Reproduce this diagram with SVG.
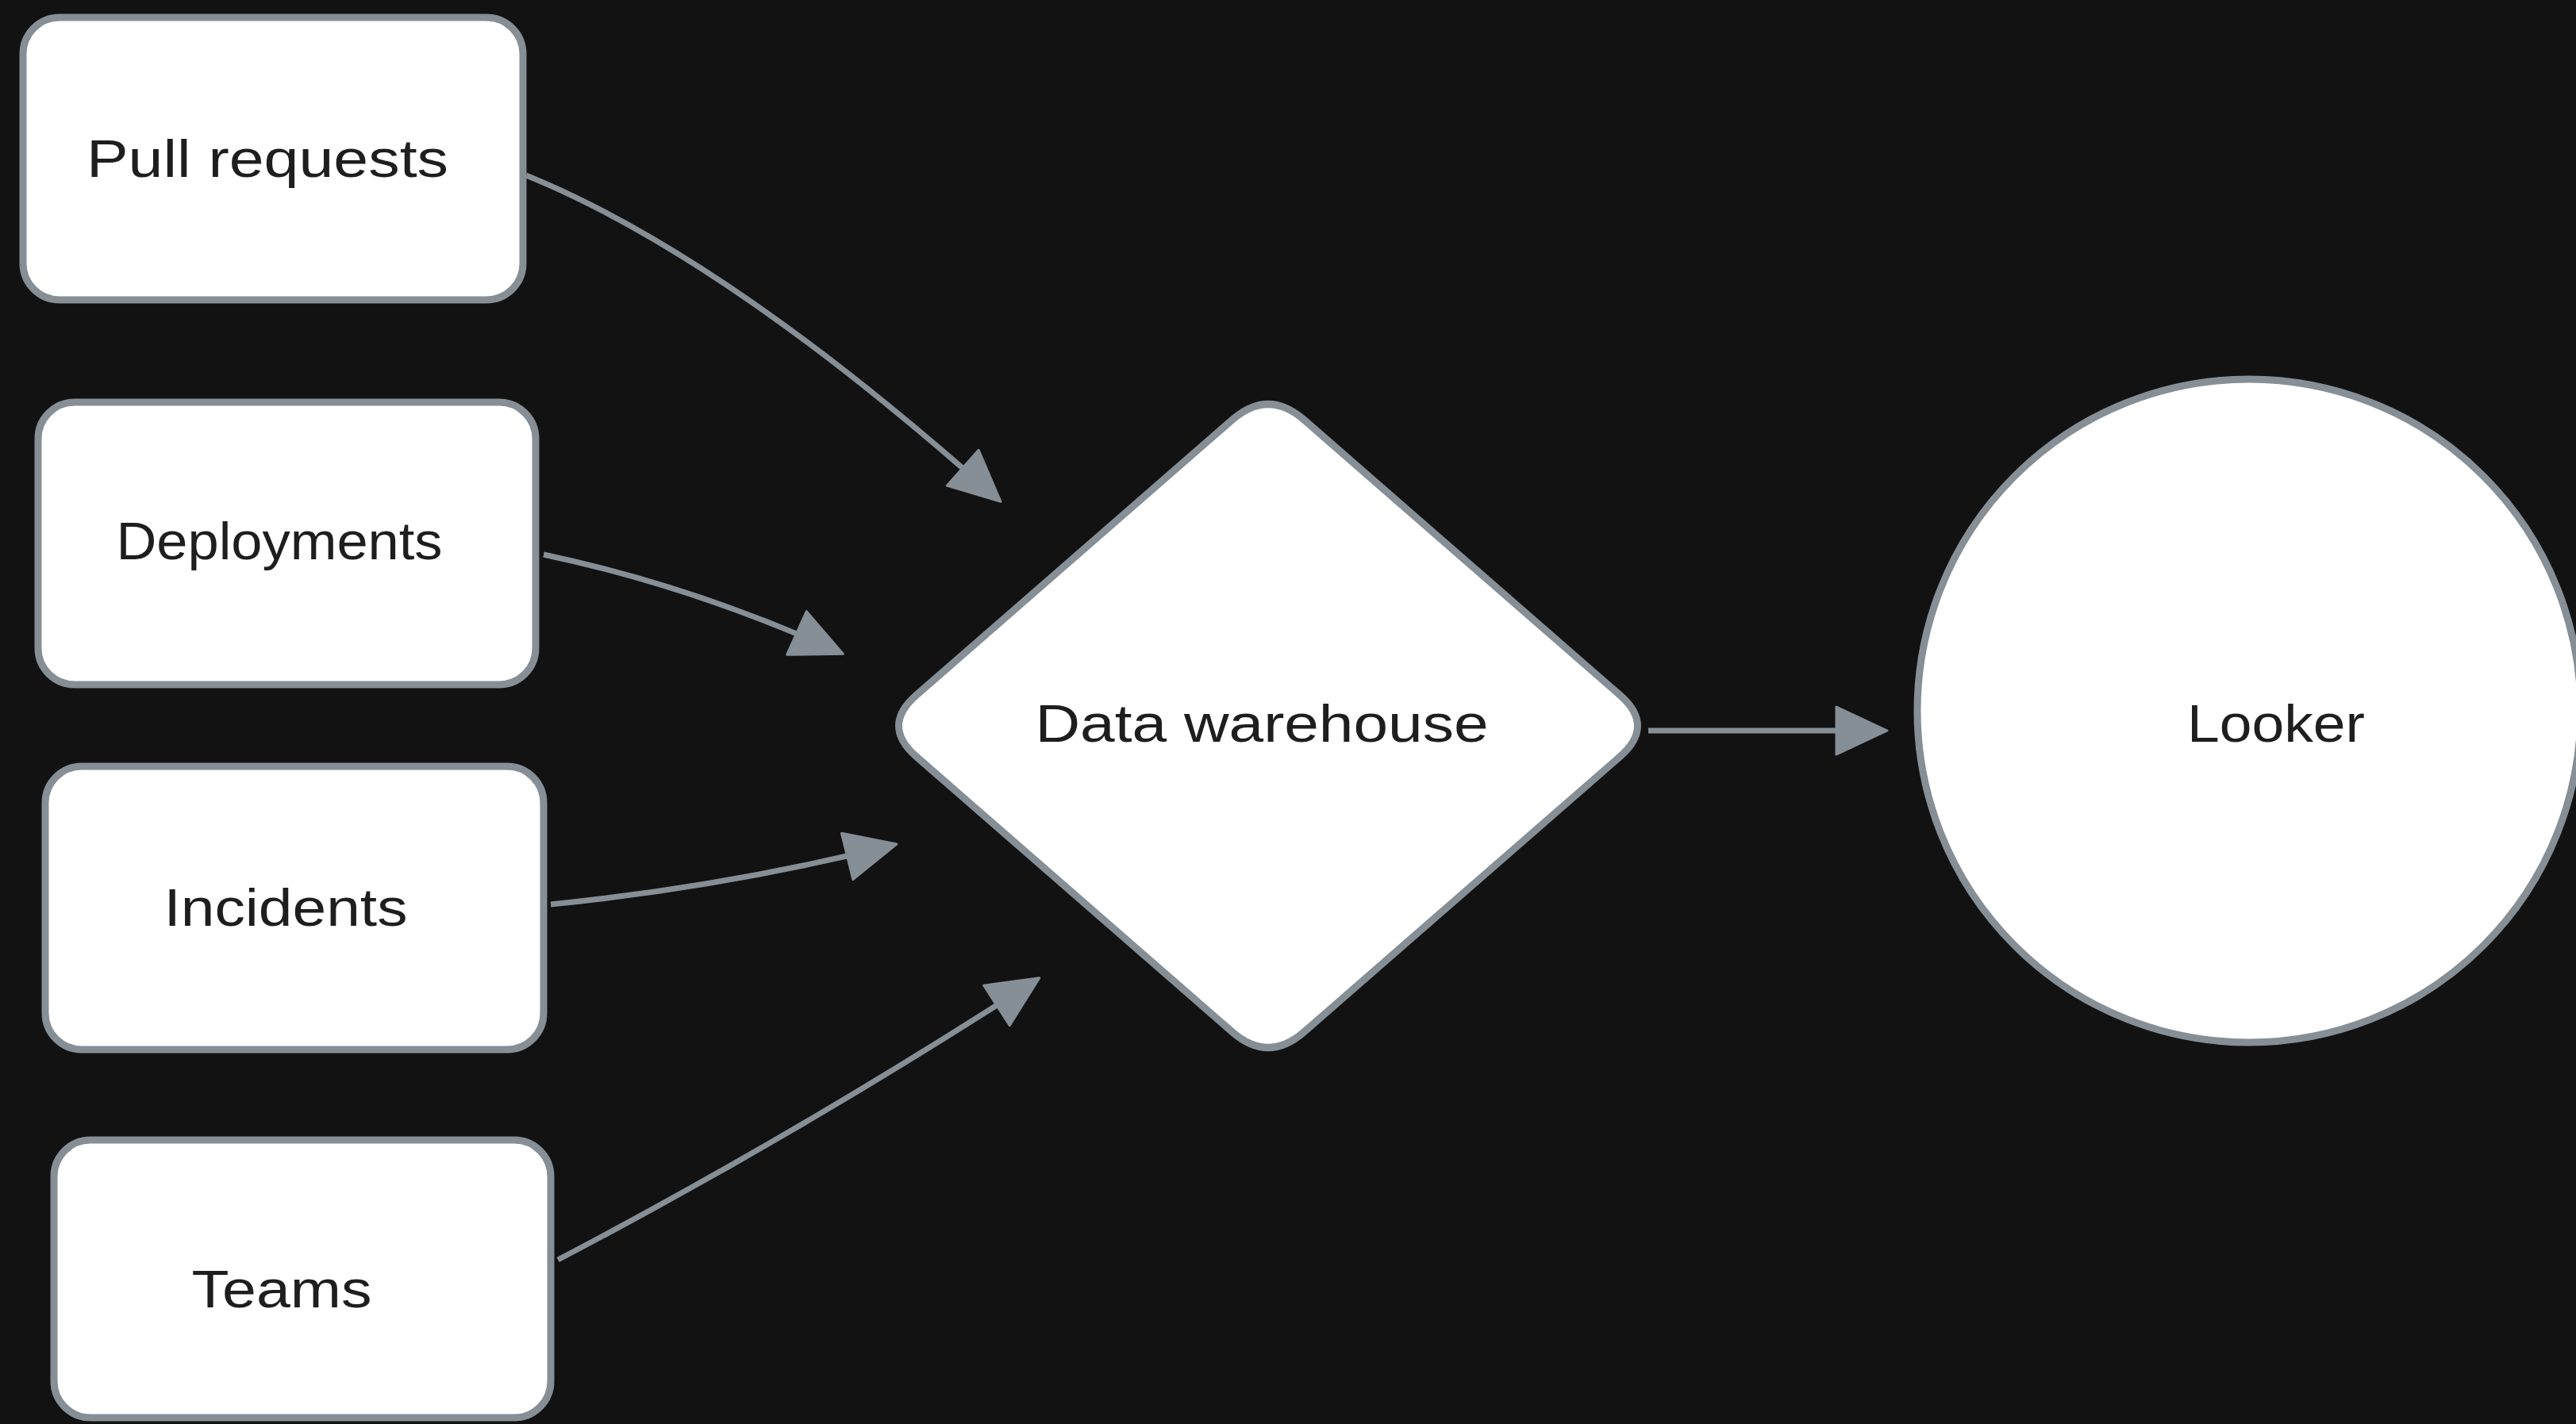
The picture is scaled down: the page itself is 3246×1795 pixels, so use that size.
<svg xmlns="http://www.w3.org/2000/svg" width="3246" height="1795" viewBox="0 0 3246 1795">
<style>
.shape{fill:#ffffff;stroke:#868e96;stroke-width:9;stroke-linejoin:round}
.lbl{font-family:"Liberation Sans",Arial,sans-serif;font-size:66px;fill:#1e1e1e;text-anchor:middle}
.edge{fill:none;stroke:#868e96;stroke-width:7;stroke-linecap:butt}
</style>
<defs>
<marker id="arrow" markerUnits="userSpaceOnUse" markerWidth="90" markerHeight="90" refX="58" refY="32" orient="auto" overflow="visible">
<path d="M2,2 L66,32 L2,62 Z" fill="#868e96" stroke="#868e96" stroke-width="3" stroke-linejoin="round"/>
</marker>
</defs>
<rect x="0" y="0" width="3246" height="1795" fill="#121212"/>
<g id="connectors">
<path class="edge" d="M663,221 Q914,323 1255,627" marker-end="url(#arrow)"/>
<path class="edge" d="M685,699 Q873,739 1055,821" marker-end="url(#arrow)"/>
<path class="edge" d="M694,1140 Q912,1118 1122,1066" marker-end="url(#arrow)"/>
<path class="edge" d="M703,1588 Q1006,1429 1303,1237" marker-end="url(#arrow)"/>
<path class="edge" d="M2077,921 L2370,921" marker-end="url(#arrow)"/>
</g>
<g id="node-pull-requests">
<rect class="shape" x="29" y="22" width="630" height="356" rx="46" ry="46"/>
<text class="lbl" x="337" y="223" textLength="456" lengthAdjust="spacingAndGlyphs">Pull requests</text>
</g>
<g id="node-deployments">
<rect class="shape" x="48" y="507" width="627" height="356" rx="46" ry="46"/>
<text class="lbl" x="352" y="705" textLength="411" lengthAdjust="spacingAndGlyphs">Deployments</text>
</g>
<g id="node-incidents">
<rect class="shape" x="57" y="966" width="628" height="357" rx="46" ry="46"/>
<text class="lbl" x="360" y="1167" textLength="307" lengthAdjust="spacingAndGlyphs">Incidents</text>
</g>
<g id="node-teams">
<rect class="shape" x="68" y="1437" width="626" height="350" rx="46" ry="46"/>
<text class="lbl" x="355" y="1648" textLength="227" lengthAdjust="spacingAndGlyphs">Teams</text>
</g>
<g id="node-data-warehouse">
<path class="shape" d="M1155,876 L1553,529 Q1598,490 1643,529 L2041,876 Q2086,915 2041,954 L1643,1301 Q1598,1340 1553,1301 L1155,954 Q1110,915 1155,876 Z"/>
<text class="lbl" x="1590" y="935" textLength="571" lengthAdjust="spacingAndGlyphs">Data warehouse</text>
</g>
<g id="node-looker">
<circle class="shape" cx="2834" cy="896" r="418"/>
<text class="lbl" x="2868" y="935" textLength="224" lengthAdjust="spacingAndGlyphs">Looker</text>
</g>
</svg>
